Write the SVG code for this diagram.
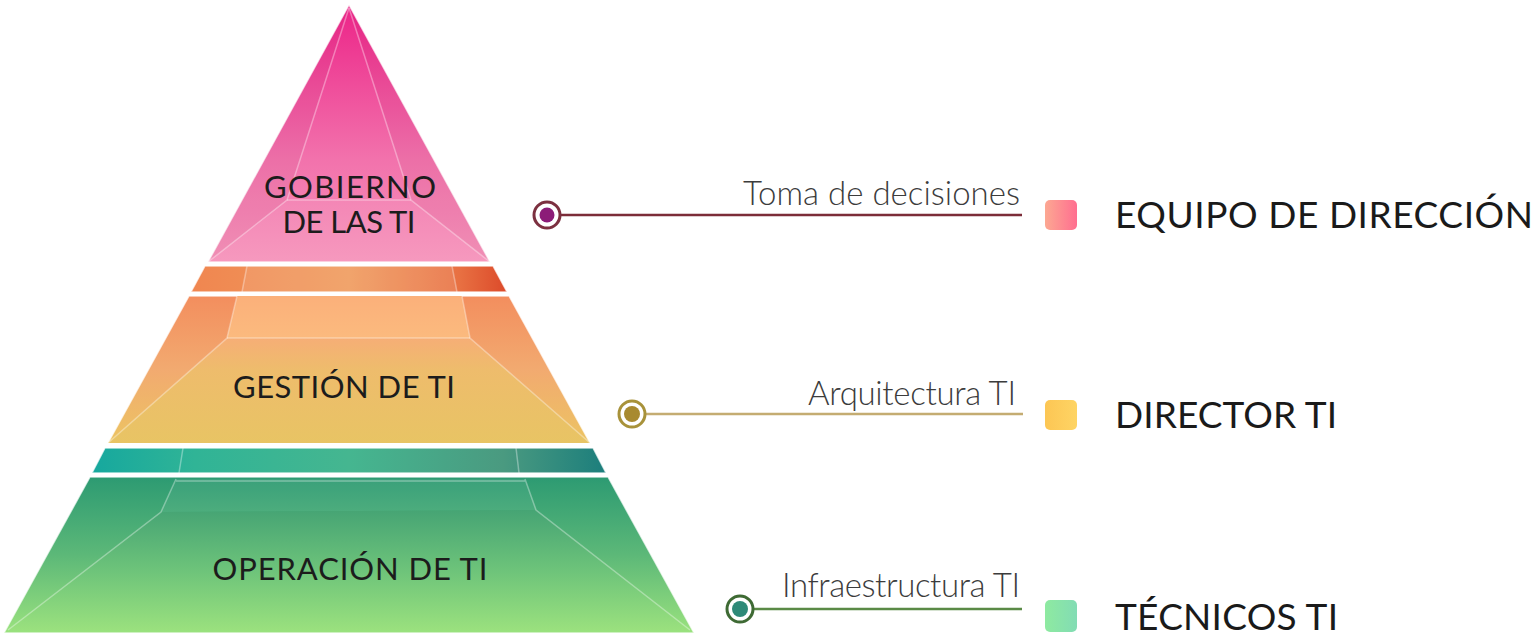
<svg xmlns="http://www.w3.org/2000/svg" width="1540" height="637" viewBox="0 0 1540 637">
<defs>
<linearGradient id="gTri" gradientUnits="userSpaceOnUse" x1="0" y1="5" x2="0" y2="262"><stop offset="0" stop-color="#ec2488"/><stop offset="0.6" stop-color="#f272ac"/><stop offset="1" stop-color="#f693ba"/></linearGradient>
<linearGradient id="gOrBand" x1="0" y1="0" x2="1" y2="0"><stop offset="0" stop-color="#f08650"/><stop offset="0.5" stop-color="#f09a5c"/><stop offset="0.85" stop-color="#e87042"/><stop offset="1" stop-color="#dc4a2a"/></linearGradient>
<linearGradient id="gOr" gradientUnits="userSpaceOnUse" x1="0" y1="296" x2="0" y2="443"><stop offset="0" stop-color="#f38e5e"/><stop offset="0.5" stop-color="#f2aa70"/><stop offset="1" stop-color="#ecc462"/></linearGradient>
<linearGradient id="gOrTop" gradientUnits="userSpaceOnUse" x1="0" y1="296" x2="0" y2="338"><stop offset="0" stop-color="#fbb07a"/><stop offset="1" stop-color="#fbba7e"/></linearGradient>
<linearGradient id="gOrFront" gradientUnits="userSpaceOnUse" x1="0" y1="338" x2="0" y2="443"><stop offset="0" stop-color="#f6ae76"/><stop offset="0.3" stop-color="#eebc6c"/><stop offset="1" stop-color="#e8c464"/></linearGradient>
<linearGradient id="gTeal" x1="0" y1="0" x2="1" y2="0"><stop offset="0" stop-color="#16a89e"/><stop offset="0.2" stop-color="#30b496"/><stop offset="0.5" stop-color="#45b690"/><stop offset="0.8" stop-color="#4a9a80"/><stop offset="1" stop-color="#1c7e7c"/></linearGradient>
<linearGradient id="gGreen" gradientUnits="userSpaceOnUse" x1="0" y1="476" x2="0" y2="633"><stop offset="0" stop-color="#2c9a72"/><stop offset="0.5" stop-color="#5cb878"/><stop offset="1" stop-color="#9ae27e"/></linearGradient>
<linearGradient id="gGreenFront" gradientUnits="userSpaceOnUse" x1="0" y1="510" x2="0" y2="633"><stop offset="0" stop-color="#46a474"/><stop offset="0.5" stop-color="#6ec47a"/><stop offset="1" stop-color="#9ce27e"/></linearGradient>
<linearGradient id="gSqPink" x1="0" y1="0" x2="1" y2="0"><stop offset="0" stop-color="#fca892"/><stop offset="1" stop-color="#ff6e90"/></linearGradient>
<linearGradient id="gSqYel" x1="0" y1="0" x2="1" y2="0"><stop offset="0" stop-color="#fcc654"/><stop offset="1" stop-color="#fed464"/></linearGradient>
<linearGradient id="gSqGrn" x1="0" y1="0" x2="1" y2="0"><stop offset="0" stop-color="#8eeaa0"/><stop offset="1" stop-color="#82dcb4"/></linearGradient>
</defs>
<style>
.outer{stroke:#ffffff;stroke-width:1.5;stroke-opacity:0.7}
.facet{fill:none;stroke:#ffffff;stroke-opacity:0.35;stroke-width:1.5}
.side{fill:#000000;fill-opacity:0.025}
.lbl{font-family:Lato,"Liberation Sans",sans-serif;font-size:31px;fill:#1c1c1c;text-anchor:middle}
.sub{font-family:Lato,"Liberation Sans",sans-serif;font-weight:300;font-size:33px;fill:#3c3c3c;text-anchor:end}
.role{font-family:Lato,"Liberation Sans",sans-serif;font-size:37px;fill:#1a1a1a}
.ring{fill:#ffffff;stroke-width:3}
</style>
<rect width="1540" height="637" fill="#ffffff"/>

<g id="gobierno">
<polygon class="outer" points="349,5 490,262 208,262" fill="url(#gTri)"/>
<polygon class="side" points="349,5 287,200 208,262"/>
<polygon class="side" points="349,5 490,262 411,200"/>
<polygon points="287,200 411,200 490,262 208,262" fill="#ffffff" fill-opacity="0.06"/>
<polyline class="facet" points="349,8 287,200 208,262"/>
<polyline class="facet" points="349,8 411,200 490,262"/>
<line class="facet" x1="287" y1="200" x2="411" y2="200"/>
<text class="lbl" x="350" y="198" textLength="172" lengthAdjust="spacing">GOBIERNO</text>
<text class="lbl" x="349" y="233" textLength="133" lengthAdjust="spacing">DE LAS TI</text>
</g>

<g id="banda-naranja">
<polygon class="outer" points="205,266 493,266 507,292 191,292" fill="url(#gOrBand)"/>
<polygon points="247,266 452,266 457,292 242,292" fill="#ffffff" fill-opacity="0.1"/>
<line class="facet" x1="247" y1="266" x2="242" y2="292"/>
<line class="facet" x1="452" y1="266" x2="457" y2="292"/>
</g>

<g id="gestion">
<polygon class="outer" points="189,296 509,296 590,443 108,443" fill="url(#gOr)"/>
<polygon points="237,296 462,296 470,338 227,338" fill="url(#gOrTop)"/>
<polygon points="227,338 470,338 590,443 108,443" fill="url(#gOrFront)"/>
<polyline class="facet" points="237,296 227,338 108,443"/>
<polyline class="facet" points="462,296 470,338 590,443"/>
<line class="facet" x1="227" y1="338" x2="470" y2="338"/>
<text class="lbl" x="344" y="398" textLength="222" lengthAdjust="spacing">GESTIÓN DE TI</text>
</g>

<g id="banda-teal">
<polygon class="outer" points="105,448 593,448 606,473 92,473" fill="url(#gTeal)"/>
<line class="facet" x1="183" y1="448" x2="179" y2="473"/>
<line class="facet" x1="516" y1="448" x2="519" y2="473"/>
</g>

<g id="operacion">
<polygon class="outer" points="90,477 608,477 694,633 4,633" fill="url(#gGreen)"/>
<polygon points="176,479 525,479 536,510 161,512" fill="#ffffff" fill-opacity="0.06"/>
<polygon points="161,512 536,510 690,630 8,630" fill="url(#gGreenFront)"/>
<polyline class="facet" points="176,479 161,512 8,630"/>
<polyline class="facet" points="525,479 536,510 690,630"/>
<line class="facet" x1="176" y1="481" x2="525" y2="481"/>
<text class="lbl" x="350" y="580" textLength="275" lengthAdjust="spacing">OPERACIÓN DE TI</text>
</g>

<g id="conectores">
<line x1="560" y1="215" x2="1022" y2="215" stroke="#7c2c38" stroke-width="2.5"/>
<circle class="ring" cx="547" cy="215" r="13" stroke="#7c3040"/>
<circle cx="547" cy="215" r="7.5" fill="#8c1c78"/>
<line x1="645" y1="414" x2="1023" y2="414" stroke="#c4ac72" stroke-width="2.5"/>
<circle class="ring" cx="632" cy="414" r="13" stroke="#a8923a"/>
<circle cx="632" cy="414" r="8" fill="#a88a30"/>
<line x1="753" y1="609" x2="1022" y2="609" stroke="#5a8a46" stroke-width="2.5"/>
<circle class="ring" cx="740" cy="609" r="13" stroke="#3e6a34"/>
<circle cx="740" cy="609" r="8" fill="#2e8a78"/>
</g>

<g id="texto-toma">
<text class="sub" x="1020" y="205" textLength="277" lengthAdjust="spacing">Toma de decisiones</text>
</g>
<g id="texto-arquitectura">
<text class="sub" x="1016" y="405" textLength="208" lengthAdjust="spacing">Arquitectura TI</text>
</g>
<g id="texto-infra">
<text class="sub" x="1020" y="597" textLength="238" lengthAdjust="spacing">Infraestructura TI</text>
</g>

<g id="equipo-direccion">
<rect x="1045" y="200" width="32" height="30" rx="5" fill="url(#gSqPink)"/>
<text class="role" x="1115" y="228" textLength="418" lengthAdjust="spacing">EQUIPO DE DIRECCIÓN</text>
</g>
<g id="director-ti">
<rect x="1045" y="400" width="32" height="30" rx="5" fill="url(#gSqYel)"/>
<text class="role" x="1115" y="428" textLength="222" lengthAdjust="spacing">DIRECTOR TI</text>
</g>
<g id="tecnicos-ti">
<rect x="1045" y="600" width="32" height="32" rx="5" fill="url(#gSqGrn)"/>
<text class="role" x="1115" y="630" textLength="223" lengthAdjust="spacing">TÉCNICOS TI</text>
</g>
</svg>
